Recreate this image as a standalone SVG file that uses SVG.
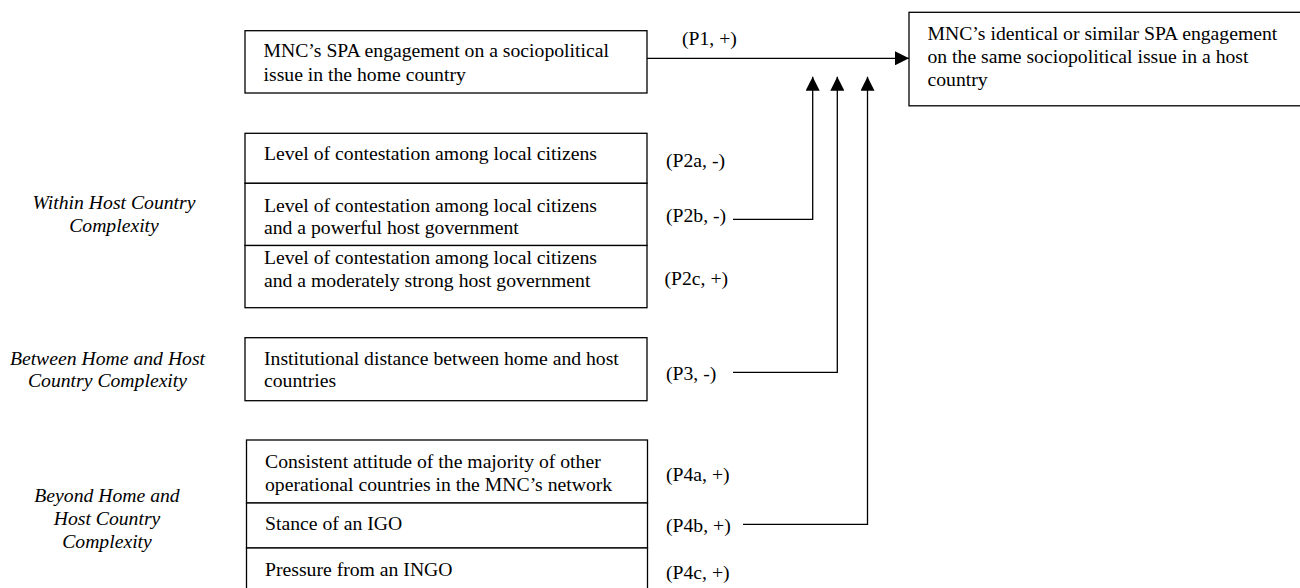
<svg xmlns="http://www.w3.org/2000/svg" width="1300" height="588" viewBox="0 0 1300 588" font-family="'Liberation Serif', 'DejaVu Serif', serif">
<style>
  text { font-family: "Liberation Serif", "Times New Roman", Times, serif; font-size: 19.7px; fill: #000; }
  .cat { font-style: italic; text-anchor: middle; }
  .box { fill: #fff; stroke: #000; stroke-width: 1.3; }
  .conn { fill: none; stroke: #000; stroke-width: 1.3; }
</style>
<defs>
  <marker id="arrow" viewBox="0 0 14 14" refX="14" refY="7" markerWidth="14" markerHeight="14" markerUnits="userSpaceOnUse" orient="auto">
    <path d="M0,0 L14,7 L0,14 Z" fill="#000"/>
  </marker>
</defs>
<rect width="1300" height="588" fill="#fff"/>

<g id="home">
  <rect class="box" x="245" y="30.7" width="402" height="62.3"/>
  <text x="263.5" y="57">MNC’s SPA engagement on a sociopolitical</text>
  <text x="263.5" y="80.5">issue in the home country</text>
</g>

<g id="target">
  <rect class="box" x="909" y="12.3" width="400" height="93.5"/>
  <text x="927.5" y="39.5">MNC’s identical or similar SPA engagement</text>
  <text x="927.5" y="62.5">on the same sociopolitical issue in a host</text>
  <text x="927.5" y="85.5">country</text>
</g>

<g id="cat-within">
  <text class="cat" x="114" y="208.5">Within Host Country</text>
  <text class="cat" x="114" y="231.5">Complexity</text>
</g>
<g id="cat-between">
  <text class="cat" x="107.5" y="364.5">Between Home and Host</text>
  <text class="cat" x="107.5" y="387">Country Complexity</text>
</g>
<g id="cat-beyond">
  <text class="cat" x="107" y="501.5">Beyond Home and</text>
  <text class="cat" x="107" y="524.5">Host Country</text>
  <text class="cat" x="107" y="548">Complexity</text>
</g>

<g id="p2a">
  <rect class="box" x="245" y="133.3" width="402" height="50"/>
  <text x="264" y="160">Level of contestation among local citizens</text>
  <text x="666" y="166.5">(P2a, -)</text>
</g>
<g id="p2b">
  <rect class="box" x="245" y="183.3" width="402" height="62.2"/>
  <text x="264" y="211.5">Level of contestation among local citizens</text>
  <text x="264" y="234">and a powerful host government</text>
  <text x="666" y="221.5">(P2b, -)</text>
</g>
<g id="p2c">
  <rect class="box" x="245" y="245.5" width="402" height="62.2"/>
  <text x="264" y="263.5">Level of contestation among local citizens</text>
  <text x="264" y="286.5">and a moderately strong host government</text>
  <text x="664.5" y="285">(P2c, +)</text>
</g>

<g id="p3">
  <rect class="box" x="245" y="337.7" width="402" height="63"/>
  <text x="264" y="364.5">Institutional distance between home and host</text>
  <text x="264" y="387">countries</text>
  <text x="666" y="380">(P3, -)</text>
</g>

<g id="p4a">
  <rect class="box" x="246.5" y="440" width="401" height="63"/>
  <text x="265" y="468">Consistent attitude of the majority of other</text>
  <text x="265" y="490.5">operational countries in the MNC’s network</text>
  <text x="666" y="480.5">(P4a, +)</text>
</g>
<g id="p4b">
  <rect class="box" x="246.5" y="503" width="401" height="45"/>
  <text x="265" y="530">Stance of an IGO</text>
  <text x="666" y="532">(P4b, +)</text>
</g>
<g id="p4c">
  <rect class="box" x="246.5" y="548" width="401" height="50"/>
  <text x="265" y="576">Pressure from an INGO</text>
  <text x="666" y="578.5">(P4c, +)</text>
</g>

<g id="connectors">
  <text x="682" y="45">(P1, +)</text>
  <line class="conn" x1="647" y1="58.3" x2="909" y2="58.3" marker-end="url(#arrow)"/>
  <polyline class="conn" points="733,219.3 812.7,219.3 812.7,76.7" marker-end="url(#arrow)"/>
  <polyline class="conn" points="733,372.3 837.3,372.3 837.3,76.7" marker-end="url(#arrow)"/>
  <polyline class="conn" points="743,524.3 867.5,524.3 867.5,76.7" marker-end="url(#arrow)"/>
</g>
</svg>
